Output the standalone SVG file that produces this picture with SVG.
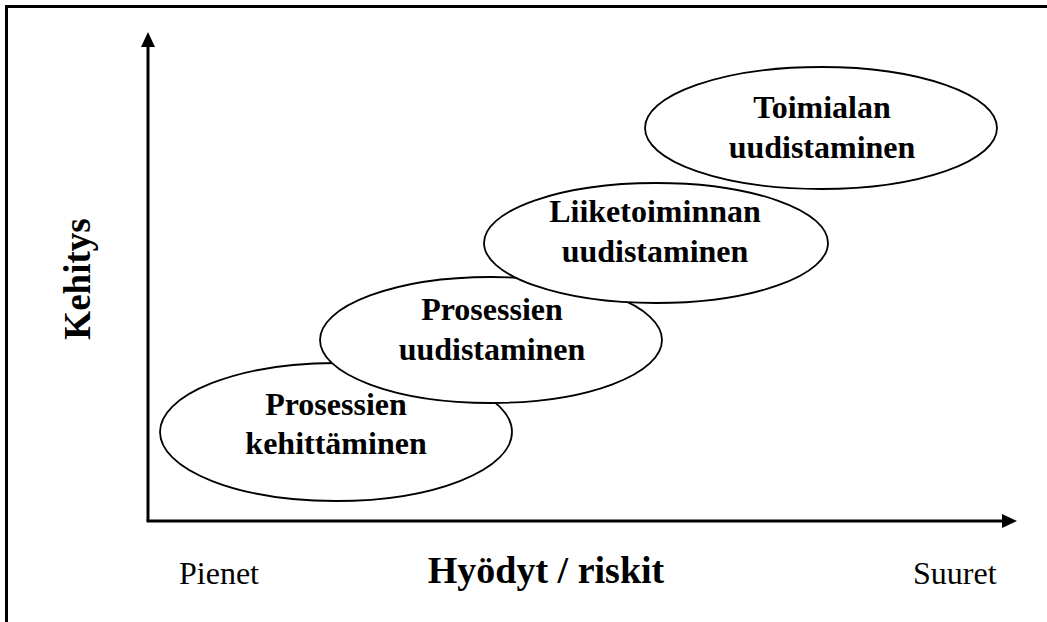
<svg xmlns="http://www.w3.org/2000/svg" width="1047" height="622" viewBox="0 0 1047 622">
  <style>
    .frame { stroke: #000; stroke-width: 3; fill: none; }
    .axis { stroke: #000; stroke-width: 3; fill: none; }
    .head { fill: #000; }
    .stage { fill: #fff; stroke: #000; stroke-width: 1.8; }
    .lbl { font-family: "Liberation Serif", "Times New Roman", serif; font-weight: bold; font-size: 32px; fill: #000; text-anchor: middle; }
    .axis-title { font-family: "Liberation Serif", "Times New Roman", serif; font-weight: bold; fill: #000; text-anchor: middle; }
    .scale { font-family: "Liberation Serif", "Times New Roman", serif; font-size: 32px; fill: #000; }
  </style>

  <rect width="1047" height="622" fill="#fff"/>

  <!-- page frame: top and left edges -->
  <path class="frame" d="M6.5,622 V6.5 H1047"/>

  <!-- axes -->
  <g id="axes">
    <path class="axis" d="M148,521 V45"/>
    <polygon class="head" points="148,32 141,47 155,47"/>
    <path class="axis" d="M146.5,521 H1004"/>
    <polygon class="head" points="1017,521 1002,514 1002,528"/>
  </g>

  <!-- development stages, each later stage drawn over the previous one -->
  <g id="stage-1">
    <ellipse class="stage" cx="336" cy="432" rx="176" ry="69"/>
    <text class="lbl" x="336" y="415">Prosessien</text>
    <text class="lbl" x="336" y="454">kehittäminen</text>
  </g>
  <g id="stage-2">
    <ellipse class="stage" cx="491" cy="340" rx="171" ry="63"/>
    <text class="lbl" x="492" y="320">Prosessien</text>
    <text class="lbl" x="492" y="360">uudistaminen</text>
  </g>
  <g id="stage-3">
    <ellipse class="stage" cx="656" cy="243" rx="172" ry="60"/>
    <text class="lbl" x="655" y="222">Liiketoiminnan</text>
    <text class="lbl" x="655" y="262">uudistaminen</text>
  </g>
  <g id="stage-4">
    <ellipse class="stage" cx="821" cy="128" rx="176" ry="61"/>
    <text class="lbl" x="822" y="118">Toimialan</text>
    <text class="lbl" x="822" y="158">uudistaminen</text>
  </g>

  <!-- axis titles and scale ends -->
  <g id="labels">
    <text class="axis-title" font-size="37" transform="translate(90,279) rotate(-90)">Kehitys</text>
    <text class="axis-title" font-size="38" x="546" y="583">Hyödyt / riskit</text>
    <text class="scale" x="179" y="584">Pienet</text>
    <text class="scale" x="913" y="584">Suuret</text>
  </g>
</svg>
